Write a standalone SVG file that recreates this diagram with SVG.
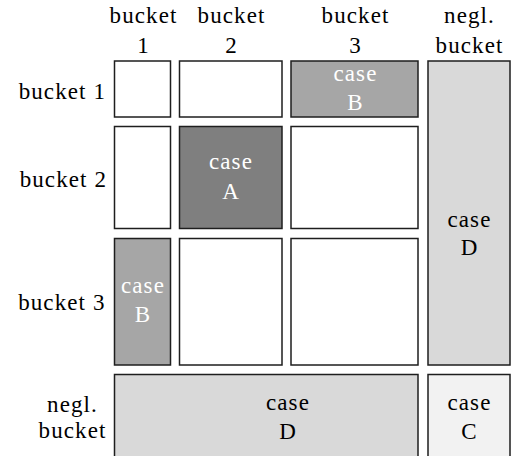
<svg xmlns="http://www.w3.org/2000/svg" width="515" height="456" viewBox="0 0 515 456" font-family="Liberation Serif">
<style>
  .cell{stroke:#1e1e1e;stroke-width:1.5}
  .w{fill:#ffffff}
  .a{fill:#7f7f7f}
  .b{fill:#a6a6a6}
  .d{fill:#d9d9d9}
  .c{fill:#f2f2f2}
  .t{font-size:23px;letter-spacing:1.1px;fill:#000000}
  .m{text-anchor:middle}
  .e{text-anchor:end}
  .lt{fill:#ffffff}
</style>
<rect width="515" height="456" fill="#ffffff"/>
<g id="headers">
  <text class="t m" font-family="Liberation Serif" x="143.5" y="23">bucket</text>
  <text class="t m" font-family="Liberation Serif" x="143.5" y="53">1</text>
  <text class="t m" font-family="Liberation Serif" x="231.5" y="23">bucket</text>
  <text class="t m" font-family="Liberation Serif" x="231.5" y="53">2</text>
  <text class="t m" font-family="Liberation Serif" x="355.5" y="23">bucket</text>
  <text class="t m" font-family="Liberation Serif" x="355.5" y="53">3</text>
  <text class="t m" font-family="Liberation Serif" x="469.5" y="23">negl.</text>
  <text class="t m" font-family="Liberation Serif" x="469.5" y="53">bucket</text>
  <text class="t e" font-family="Liberation Serif" x="106" y="99">bucket 1</text>
  <text class="t e" font-family="Liberation Serif" x="107" y="187">bucket 2</text>
  <text class="t e" font-family="Liberation Serif" x="105.5" y="310">bucket 3</text>
  <text class="t m" font-family="Liberation Serif" x="72.5" y="412">negl.</text>
  <text class="t m" font-family="Liberation Serif" x="72.5" y="437.5">bucket</text>
</g>
<g id="r1c1"><rect class="cell w" x="114.5" y="61" width="56" height="56"/></g>
<g id="r1c2"><rect class="cell w" x="179.5" y="61" width="102.5" height="56"/></g>
<g id="r1c3"><rect class="cell b" x="291" y="61" width="127" height="56"/>
  <text class="t m lt" font-family="Liberation Serif" x="355.5" y="81">case</text>
  <text class="t m lt" font-family="Liberation Serif" x="355.5" y="110">B</text></g>
<g id="c4D"><rect class="cell d" x="428" y="61" width="82" height="304"/>
  <text class="t m" font-family="Liberation Serif" x="469.5" y="227">case</text>
  <text class="t m" font-family="Liberation Serif" x="469.5" y="255">D</text></g>
<g id="r2c1"><rect class="cell w" x="114.5" y="126.5" width="56" height="102"/></g>
<g id="r2c2"><rect class="cell a" x="179.5" y="126.5" width="102.5" height="102"/>
  <text class="t m lt" font-family="Liberation Serif" x="231" y="169">case</text>
  <text class="t m lt" font-family="Liberation Serif" x="231" y="199">A</text></g>
<g id="r2c3"><rect class="cell w" x="291" y="126.5" width="127" height="102"/></g>
<g id="r3c1"><rect class="cell b" x="114.5" y="238.5" width="56" height="126.5"/>
  <text class="t m lt" font-family="Liberation Serif" x="143" y="293">case</text>
  <text class="t m lt" font-family="Liberation Serif" x="143" y="322">B</text></g>
<g id="r3c2"><rect class="cell w" x="179.5" y="238.5" width="102.5" height="126.5"/></g>
<g id="r3c3"><rect class="cell w" x="291" y="238.5" width="127" height="126.5"/></g>
<g id="r4D"><rect class="cell d" x="114.5" y="374.5" width="303.5" height="90"/>
  <text class="t m" font-family="Liberation Serif" x="288" y="410">case</text>
  <text class="t m" font-family="Liberation Serif" x="288" y="439">D</text></g>
<g id="r4C"><rect class="cell c" x="428" y="374.5" width="82" height="90"/>
  <text class="t m" font-family="Liberation Serif" x="469.5" y="410">case</text>
  <text class="t m" font-family="Liberation Serif" x="469.5" y="439">C</text></g>
<g id="connectors"></g>
</svg>
